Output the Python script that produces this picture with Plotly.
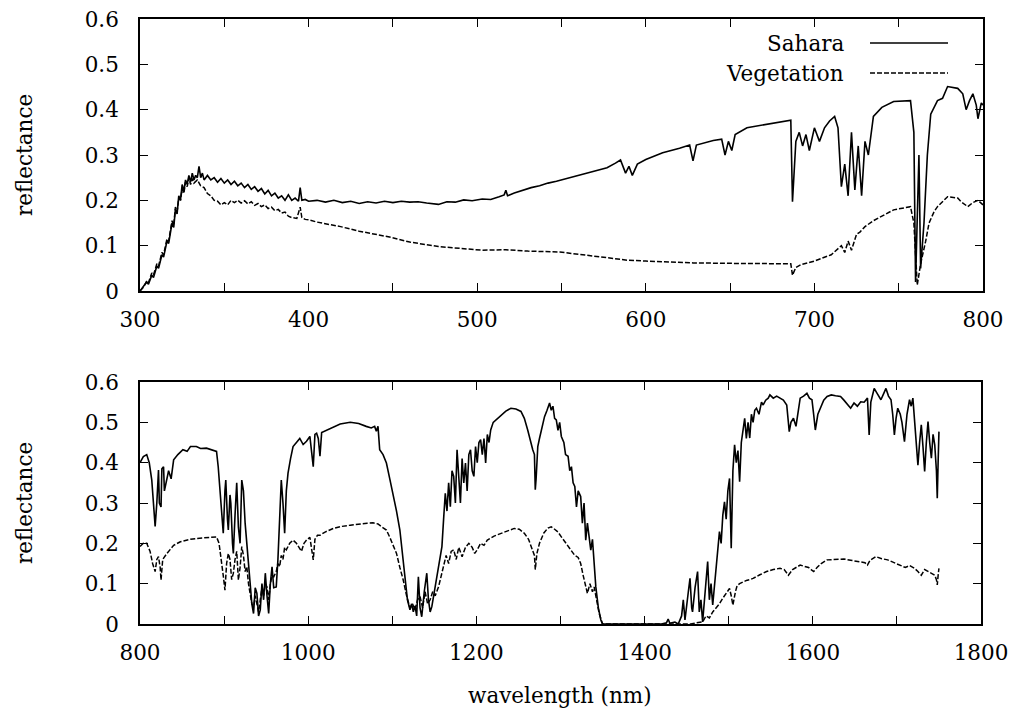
import plotly.graph_objects as go

# ---------------- data ----------------
# Top panel: 300-800 nm
uv_wl_sahara = [300, 302, 304, 305, 307, 308, 310, 311, 313, 314, 316, 317, 319, 320, 321, 322, 323, 324, 325, 326,
                327, 328, 329, 330, 331, 332, 333, 334, 335, 336, 337, 338, 340, 342, 344, 346, 348, 350, 352, 354,
                356, 358, 360, 362, 364, 366, 368, 370, 372, 374, 376, 378, 380, 382, 384, 386, 388, 390, 392, 394,
                395, 396, 398, 400, 405, 410, 415, 420, 425, 430, 435, 440, 445, 450, 455, 460, 465, 470, 477, 482,
                487, 492, 497, 503, 508, 513, 516, 517, 518, 522, 527, 532, 537, 542, 547, 552, 557, 562, 567, 572,
                577, 582, 585, 588, 590, 592, 595, 600, 610, 620, 626, 628, 630, 640, 645, 647, 649, 651, 653, 660,
                670, 680, 686, 687, 689, 691, 693, 695, 697, 700, 703, 706, 709, 712, 714, 716, 718, 720, 722, 724,
                726, 728, 730, 732, 735, 740, 747, 757, 759, 760, 761, 762, 763, 765, 767, 769, 773, 776, 779, 785,
                788, 790, 792, 794, 796, 797, 799, 800]
uv_sahara = [0.0, 0.01, 0.02, 0.015, 0.035, 0.03, 0.055, 0.05, 0.08, 0.075, 0.11, 0.105, 0.15, 0.14, 0.18, 0.17, 0.21, 0.2, 0.235, 0.22,
             0.245, 0.235, 0.255, 0.24, 0.26, 0.245, 0.255, 0.25, 0.275, 0.25, 0.26, 0.245, 0.255, 0.245, 0.25, 0.24, 0.248, 0.238, 0.245, 0.235,
             0.242, 0.232, 0.238, 0.228, 0.235, 0.224, 0.23, 0.22, 0.226, 0.214, 0.222, 0.21, 0.216, 0.205, 0.21, 0.2, 0.212, 0.2, 0.205, 0.198,
             0.228, 0.2, 0.202, 0.198, 0.2, 0.196, 0.2, 0.195, 0.198, 0.193, 0.197, 0.194, 0.198, 0.195, 0.198, 0.196, 0.197, 0.194, 0.191, 0.197,
             0.196, 0.201, 0.199, 0.203, 0.202, 0.208, 0.212, 0.222, 0.21, 0.216, 0.222, 0.228, 0.232, 0.238, 0.242, 0.247, 0.252, 0.258, 0.262, 0.267,
             0.272, 0.282, 0.289, 0.26, 0.275, 0.255, 0.28, 0.29, 0.305, 0.315, 0.322, 0.287, 0.322, 0.332, 0.335, 0.3, 0.33, 0.31, 0.345, 0.36,
             0.366, 0.372, 0.377, 0.197, 0.33, 0.35, 0.32, 0.345, 0.31, 0.36, 0.33, 0.36, 0.375, 0.385, 0.36, 0.23, 0.28, 0.21, 0.35, 0.223,
             0.32, 0.21, 0.33, 0.3, 0.385, 0.405, 0.418, 0.42, 0.35, 0.02, 0.15, 0.3, 0.05, 0.15, 0.3, 0.39, 0.42, 0.425, 0.451, 0.447,
             0.435, 0.40, 0.42, 0.435, 0.41, 0.38, 0.415, 0.41]

uv_wl_veg = [300, 302, 304, 305, 307, 308, 310, 311, 313, 314, 316, 317, 319, 320, 321, 322, 323, 324, 325, 326,
             327, 328, 329, 330, 331, 332, 334, 336, 338, 340, 342, 344, 346, 348, 350, 352, 354, 356, 358, 360,
             362, 364, 366, 368, 370, 372, 374, 376, 378, 380, 382, 384, 386, 388, 390, 393, 395, 396, 398, 400,
             405, 419, 430, 448, 460, 477, 490, 503, 517, 530, 549, 565, 580, 589, 600, 628, 650, 670, 686, 687,
             689, 692, 700, 710, 714, 716, 718, 720, 722, 725, 727, 730, 735, 747, 757, 759, 761, 763, 766, 768,
             771, 773, 779, 785, 787, 791, 794, 797, 800]
uv_veg = [0.0, 0.008, 0.022, 0.018, 0.04, 0.035, 0.06, 0.055, 0.085, 0.08, 0.115, 0.11, 0.155, 0.145, 0.185, 0.175, 0.205, 0.2, 0.225, 0.215,
          0.24, 0.23, 0.25, 0.235, 0.248, 0.238, 0.245, 0.232, 0.228, 0.215, 0.21, 0.2, 0.198, 0.19, 0.195, 0.19, 0.2, 0.195, 0.2, 0.194,
          0.199, 0.192, 0.197, 0.189, 0.193, 0.186, 0.19, 0.182, 0.185, 0.177, 0.18, 0.172, 0.174, 0.165, 0.162, 0.16, 0.185, 0.162, 0.158, 0.157,
          0.152, 0.142, 0.132, 0.119, 0.108, 0.098, 0.094, 0.09, 0.091, 0.088, 0.086, 0.079, 0.072, 0.068, 0.066, 0.062, 0.061, 0.06, 0.06, 0.035,
          0.052, 0.058, 0.066, 0.08, 0.092, 0.1, 0.085, 0.11, 0.09, 0.125, 0.13, 0.142, 0.155, 0.179, 0.186, 0.15, 0.013, 0.06, 0.11, 0.15,
          0.175, 0.186, 0.208, 0.205, 0.197, 0.186, 0.195, 0.2, 0.19]

# Bottom panel: 800-1750 nm
ir_wl_sahara = [800, 804, 808, 811, 814, 816, 818, 820, 822, 823, 825, 826, 828, 829, 832, 834, 837, 840, 845, 851,
                856, 860, 867, 872, 879, 885, 891, 893, 895, 897, 899, 901, 902, 904, 905, 907, 908, 910, 911, 913,
                915, 917, 919, 921, 923, 925, 927, 929, 931, 933, 935, 937, 939, 941, 943, 945, 947, 949, 951, 953,
                955, 957, 959, 962, 964, 966, 968, 970, 972, 974, 976, 979, 982, 986, 990, 994, 998, 1002, 1006, 1008,
                1010, 1012, 1014, 1016, 1022, 1030, 1038, 1050, 1060, 1069, 1075, 1079, 1081, 1083, 1085, 1089, 1093, 1097, 1101, 1105,
                1109, 1112, 1115, 1118, 1121, 1123, 1125, 1127, 1129, 1131, 1133, 1135, 1138, 1141, 1143, 1145, 1147, 1150, 1153, 1156,
                1159, 1161, 1163, 1165, 1167, 1169, 1171, 1173, 1175, 1177, 1179, 1181, 1183, 1185, 1187, 1189, 1191, 1193, 1195, 1197,
                1199, 1201, 1203, 1205, 1207, 1209, 1211, 1213, 1215, 1217, 1220, 1225, 1229, 1235, 1241, 1247, 1253, 1257, 1261, 1264,
                1267, 1269, 1270, 1271, 1273, 1275, 1278, 1281, 1284, 1287, 1289, 1291, 1293, 1295, 1297, 1299, 1301, 1304, 1306, 1309,
                1311, 1313, 1315, 1317, 1319, 1321, 1324, 1326, 1328, 1330, 1332, 1334, 1336, 1338, 1340, 1342, 1345, 1348, 1350, 1380,
                1420, 1426, 1428, 1430, 1436, 1440, 1444, 1446, 1448, 1452, 1454, 1456, 1457, 1460, 1463, 1465, 1467, 1469, 1472, 1475,
                1477, 1479, 1481, 1483, 1484, 1486, 1489, 1491, 1493, 1495, 1497, 1499, 1501, 1503, 1505, 1507, 1509, 1511, 1513, 1515,
                1517, 1519, 1521, 1523, 1525, 1527, 1529, 1531, 1533, 1536, 1539, 1541, 1544, 1547, 1549, 1553, 1557, 1561, 1565, 1569,
                1571, 1572, 1574, 1577, 1580, 1583, 1585, 1589, 1593, 1596, 1599, 1601, 1603, 1606, 1609, 1613, 1617, 1622, 1627, 1633,
                1637, 1641, 1645, 1649, 1653, 1657, 1661, 1665, 1667, 1669, 1673, 1677, 1681, 1684, 1687, 1690, 1693, 1695, 1697, 1699,
                1701, 1704, 1706, 1709, 1712, 1715, 1717, 1719, 1721, 1723, 1725, 1727, 1729, 1731, 1733, 1735, 1737, 1739, 1741, 1743,
                1745, 1747, 1748, 1749, 1750]
ir_sahara = [0.40, 0.415, 0.42, 0.40, 0.357, 0.3, 0.242, 0.3, 0.382, 0.3, 0.29, 0.385, 0.39, 0.33, 0.357, 0.38, 0.36, 0.407, 0.42, 0.432,
             0.428, 0.44, 0.44, 0.435, 0.436, 0.432, 0.428, 0.39, 0.333, 0.28, 0.225, 0.33, 0.357, 0.26, 0.233, 0.32, 0.3, 0.2, 0.175, 0.27,
             0.35, 0.24, 0.2, 0.357, 0.33, 0.25, 0.2, 0.142, 0.09, 0.05, 0.026, 0.09, 0.076, 0.02, 0.035, 0.1, 0.06, 0.126, 0.07, 0.026,
             0.1, 0.142, 0.09, 0.092, 0.16, 0.25, 0.357, 0.3, 0.225, 0.33, 0.374, 0.41, 0.44, 0.45, 0.46, 0.445, 0.453, 0.465, 0.39, 0.47,
             0.473, 0.46, 0.416, 0.475, 0.481, 0.49, 0.496, 0.5, 0.497, 0.49, 0.486, 0.49, 0.478, 0.49, 0.432, 0.42, 0.399, 0.36, 0.324, 0.28,
             0.233, 0.17, 0.109, 0.06, 0.035, 0.05, 0.03, 0.045, 0.02, 0.117, 0.04, 0.018, 0.08, 0.126, 0.06, 0.03, 0.043, 0.08, 0.109, 0.15,
             0.192, 0.26, 0.324, 0.28, 0.35, 0.291, 0.38, 0.366, 0.3, 0.432, 0.36, 0.3, 0.41, 0.35, 0.399, 0.33, 0.42, 0.432, 0.38, 0.366,
             0.44, 0.4, 0.45, 0.457, 0.42, 0.46, 0.399, 0.47, 0.45, 0.481, 0.5, 0.51, 0.518, 0.528, 0.535, 0.533, 0.527, 0.51, 0.481, 0.455,
             0.432, 0.42, 0.333, 0.36, 0.44, 0.46, 0.49, 0.514, 0.53, 0.548, 0.53, 0.54, 0.51, 0.506, 0.48, 0.5, 0.465, 0.45, 0.42, 0.416,
             0.38, 0.39, 0.35, 0.341, 0.29, 0.33, 0.316, 0.25, 0.3, 0.208, 0.25, 0.22, 0.183, 0.21, 0.15, 0.092, 0.04, 0.01, 0.0, 0.0,
             0.0, 0.003, 0.012, 0.002, 0.005, 0.0, 0.02, 0.06, 0.01, 0.08, 0.113, 0.04, 0.03, 0.09, 0.13, 0.03, 0.06, 0.005, 0.08, 0.155,
             0.06, 0.1, 0.047, 0.09, 0.13, 0.17, 0.229, 0.2, 0.27, 0.303, 0.26, 0.33, 0.361, 0.188, 0.38, 0.444, 0.4, 0.43, 0.353, 0.45,
             0.48, 0.51, 0.46, 0.5, 0.461, 0.52, 0.5, 0.53, 0.535, 0.52, 0.55, 0.543, 0.555, 0.56, 0.568, 0.56, 0.565, 0.56, 0.555, 0.543,
             0.5, 0.477, 0.5, 0.51, 0.49, 0.54, 0.56, 0.565, 0.572, 0.56, 0.556, 0.52, 0.481, 0.52, 0.535, 0.555, 0.564, 0.568, 0.566, 0.564,
             0.555, 0.545, 0.535, 0.548, 0.54, 0.551, 0.55, 0.56, 0.469, 0.55, 0.584, 0.57, 0.556, 0.57, 0.584, 0.565, 0.556, 0.52, 0.469, 0.51,
             0.535, 0.52, 0.5, 0.452, 0.52, 0.556, 0.54, 0.56, 0.5, 0.45, 0.394, 0.45, 0.494, 0.44, 0.378, 0.45, 0.502, 0.45, 0.411, 0.47,
             0.444, 0.38, 0.312, 0.4, 0.477]

ir_wl_veg = [800, 804, 808, 812, 815, 818, 820, 822, 824, 825, 827, 830, 832, 836, 840, 848, 855, 860, 867, 875,
             883, 891, 894, 897, 899, 901, 903, 905, 907, 909, 911, 913, 915, 917, 919, 921, 923, 925, 927, 929,
             931, 933, 935, 937, 939, 941, 943, 945, 947, 949, 951, 953, 955, 957, 959, 962, 964, 966, 968, 970,
             972, 974, 978, 982, 986, 989, 992, 995, 998, 1002, 1006, 1008, 1011, 1014, 1020, 1030, 1040, 1050, 1060, 1070,
             1077, 1083, 1088, 1093, 1097, 1101, 1105, 1109, 1113, 1117, 1121, 1124, 1127, 1130, 1133, 1136, 1139, 1142, 1145, 1148,
             1151, 1155, 1158, 1161, 1164, 1167, 1170, 1173, 1176, 1179, 1183, 1187, 1191, 1195, 1198, 1201, 1205, 1209, 1213, 1221,
             1229, 1237, 1245, 1251, 1257, 1262, 1267, 1269, 1270, 1272, 1275, 1280, 1285, 1289, 1293, 1297, 1301, 1305, 1309, 1313,
             1317, 1321, 1324, 1327, 1330, 1332, 1335, 1338, 1340, 1343, 1346, 1350, 1400, 1455, 1462, 1469, 1473, 1477, 1481, 1485,
             1489, 1493, 1497, 1501, 1503, 1505, 1508, 1510, 1513, 1517, 1521, 1525, 1529, 1537, 1545, 1553, 1561, 1566, 1571, 1576,
             1581, 1585, 1590, 1595, 1598, 1601, 1605, 1610, 1617, 1625, 1637, 1645, 1655, 1662, 1665, 1668, 1675, 1682, 1689, 1697,
             1705, 1710, 1715, 1721, 1725, 1729, 1733, 1737, 1741, 1745, 1747, 1748, 1749, 1750]
ir_veg = [0.192, 0.2, 0.2, 0.18, 0.15, 0.13, 0.16, 0.167, 0.14, 0.109, 0.16, 0.17, 0.175, 0.185, 0.195, 0.204, 0.208, 0.21, 0.212, 0.213,
          0.215, 0.216, 0.2, 0.159, 0.12, 0.084, 0.15, 0.175, 0.16, 0.11, 0.126, 0.16, 0.18, 0.109, 0.14, 0.192, 0.17, 0.13, 0.142, 0.1,
          0.07, 0.05, 0.043, 0.07, 0.05, 0.03, 0.06, 0.09, 0.07, 0.1, 0.092, 0.06, 0.1, 0.12, 0.117, 0.13, 0.15, 0.142, 0.17, 0.16,
          0.19, 0.184, 0.2, 0.208, 0.2, 0.19, 0.18, 0.2, 0.208, 0.215, 0.159, 0.21, 0.22, 0.22, 0.228, 0.237, 0.242, 0.245, 0.248, 0.25,
          0.251, 0.248, 0.24, 0.233, 0.215, 0.195, 0.175, 0.14, 0.109, 0.07, 0.04, 0.05, 0.035, 0.06, 0.068, 0.04, 0.08, 0.05, 0.06, 0.08,
          0.07, 0.092, 0.12, 0.142, 0.17, 0.15, 0.18, 0.184, 0.16, 0.19, 0.167, 0.19, 0.2, 0.19, 0.175, 0.184, 0.2, 0.195, 0.208, 0.218,
          0.225, 0.232, 0.237, 0.235, 0.225, 0.21, 0.184, 0.17, 0.135, 0.175, 0.2, 0.225, 0.238, 0.241, 0.235, 0.228, 0.216, 0.205, 0.195, 0.184,
          0.17, 0.165, 0.15, 0.12, 0.09, 0.076, 0.1, 0.08, 0.092, 0.06, 0.026, 0.0, 0.0, 0.0, 0.003, 0.005, 0.02, 0.015, 0.03, 0.039,
          0.05, 0.064, 0.075, 0.088, 0.07, 0.047, 0.08, 0.095, 0.1, 0.105, 0.108, 0.11, 0.113, 0.122, 0.13, 0.135, 0.138, 0.135, 0.121, 0.135,
          0.14, 0.146, 0.143, 0.14, 0.135, 0.13, 0.14, 0.15, 0.159, 0.16, 0.161, 0.158, 0.155, 0.152, 0.146, 0.158, 0.167, 0.162, 0.159, 0.152,
          0.146, 0.14, 0.145, 0.138, 0.13, 0.121, 0.135, 0.13, 0.125, 0.121, 0.11, 0.097, 0.12, 0.138]

top_xticks = [300, 350, 400, 450, 500, 550, 600, 650, 700, 750, 800]
top_xlabels = ["300", "", "400", "", "500", "", "600", "", "700", "", "800"]
bot_xticks = [800, 900, 1000, 1100, 1200, 1300, 1400, 1500, 1600, 1700, 1800]
bot_xlabels = ["800", "", "1000", "", "1200", "", "1400", "", "1600", "", "1800"]
yticks = [0, 0.1, 0.2, 0.3, 0.4, 0.5, 0.6]
ylabels = ["0", "0.1", "0.2", "0.3", "0.4", "0.5", "0.6"]
series_names = ["Sahara", "Vegetation"]
y_title = "reflectance"
x_title = "wavelength (nm)"

# ---------------- figure ----------------
W, H = 1015, 711
FONT = "DejaVu Serif"
FS = 21.5

solid = dict(color="black", width=1.6)
dashed = dict(color="black", width=1.5, dash="5px,2px")

fig = go.Figure()
fig.add_trace(go.Scatter(x=uv_wl_sahara, y=uv_sahara, mode="lines", line=solid, name=series_names[0],
                         xaxis="x", yaxis="y", showlegend=False))
fig.add_trace(go.Scatter(x=uv_wl_veg, y=uv_veg, mode="lines", line=dashed, name=series_names[1],
                         xaxis="x", yaxis="y", showlegend=False))
fig.add_trace(go.Scatter(x=ir_wl_sahara, y=ir_sahara, mode="lines", line=solid, name=series_names[0],
                         xaxis="x2", yaxis="y2", showlegend=False))
fig.add_trace(go.Scatter(x=ir_wl_veg, y=ir_veg, mode="lines", line=dashed, name=series_names[1],
                         xaxis="x2", yaxis="y2", showlegend=False))

axis_common = dict(showline=True, linecolor="black", linewidth=1.6, mirror="ticks", ticks="inside",
                   ticklen=8, tickwidth=1.2, tickcolor="black", showgrid=False, zeroline=False,
                   automargin=False, tickfont=dict(family=FONT, size=FS, color="black"))

top_dom = [1 - 291 / H, 1 - 19 / H]
bot_dom = [1 - 624 / H, 1 - 382 / H]

fig.update_layout(
    width=W, height=H, margin=dict(l=0, r=0, t=0, b=0, autoexpand=False),
    paper_bgcolor="white", plot_bgcolor="white",
    font=dict(family=FONT, size=FS, color="black"),
    xaxis=dict(domain=[140 / W, 983 / W], range=[300, 800], tickvals=top_xticks, ticktext=top_xlabels,
               anchor="y", ticklabelstandoff=8, **axis_common),
    yaxis=dict(domain=top_dom, range=[0, 0.6], tickvals=yticks, ticktext=ylabels,
               anchor="x", ticklabelstandoff=15, **axis_common),
    xaxis2=dict(domain=[140 / W, 981 / W], range=[800, 1800], tickvals=bot_xticks, ticktext=bot_xlabels,
                anchor="y2", ticklabelstandoff=8, **axis_common),
    yaxis2=dict(domain=bot_dom, range=[0, 0.6], tickvals=yticks, ticktext=ylabels,
                anchor="x2", ticklabelstandoff=15, **axis_common),
)

# axis titles
for dom in (top_dom, bot_dom):
    fig.add_annotation(x=25 / W, y=(dom[0] + dom[1]) / 2, xref="paper", yref="paper", text=y_title,
                       textangle=-90, showarrow=False, xanchor="center", yanchor="middle",
                       font=dict(family=FONT, size=FS, color="black"))
fig.add_annotation(x=560 / W, y=1 - 695 / H, xref="paper", yref="paper", text=x_title, showarrow=False,
                   xanchor="center", yanchor="middle", font=dict(family=FONT, size=FS, color="black"))

# gnuplot-style key: text right-aligned, line sample to the right
key_rows = [(43, solid), (73, dashed)]
for name, (ypx, ln) in zip(series_names, key_rows):
    fig.add_annotation(x=846 / W, y=1 - ypx / H, xref="paper", yref="paper", text=name, showarrow=False,
                       xanchor="right", yanchor="middle", font=dict(family=FONT, size=FS, color="black"))
    fig.add_shape(type="line", xref="paper", yref="paper", x0=870 / W, x1=948 / W,
                  y0=1 - ypx / H, y1=1 - ypx / H, line=ln)

fig.write_html("out.html")
